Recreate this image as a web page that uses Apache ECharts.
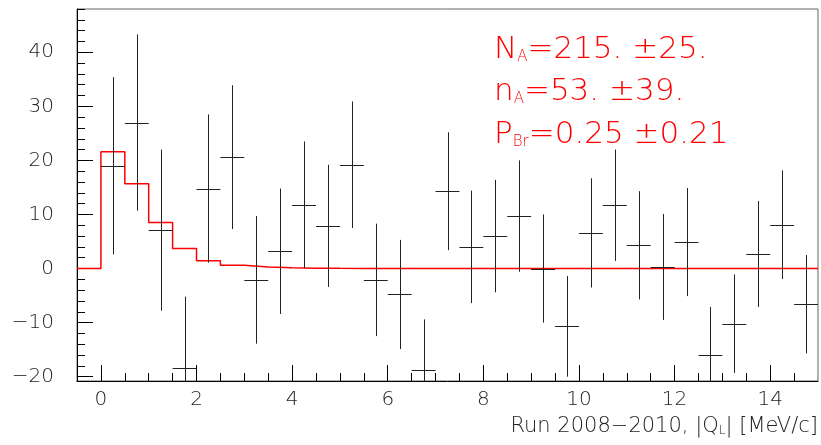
<!DOCTYPE html>
<html><head><meta charset="utf-8">
<script src="https://cdn.jsdelivr.net/npm/echarts@6/dist/echarts.min.js"></script>
<style>html,body{margin:0;padding:0;background:#fff}#c{width:821px;height:445px}</style>
</head><body><div id="c"></div>
<script>
// Data points (bin centres, values, symmetric errors)
const binCenters = [0.25,0.75,1.25,1.75,2.25,2.75,3.25,3.75,4.25,4.75,5.25,5.75,6.25,6.75,7.25,7.75,8.25,8.75,9.25,9.75,10.25,10.75,11.25,11.75,12.25,12.75,13.25,13.75,14.25,14.75];
const dataValues = [19.0,27.0,7.1,-18.4,14.8,20.6,-2.1,3.2,11.8,7.9,19.2,-2.1,-4.8,-18.7,14.3,4.0,6.0,9.7,0.0,-10.7,6.6,11.7,4.3,0.3,4.9,-15.9,-10.2,2.7,8.1,-6.6];
const dataErrors = [16.4,16.3,14.9,13.2,13.7,13.3,11.8,11.6,11.7,11.3,11.7,10.4,10.1,9.3,10.9,10.4,10.4,10.3,10.0,9.3,10.1,10.3,10.0,9.8,10.0,8.8,9.1,9.8,10.05,9.1];
const binWidth = 0.5;
// Fit histogram (lower bin edges and contents)
const fitEdges = [-0.5,0,0.5,1,1.5,2,2.5,3,3.5,4,4.5,5,5.5,6,6.5,7,7.5,8,8.5,9,9.5,10,10.5,11,11.5,12,12.5,13,13.5,14,14.5,15];
const fitValues = [0,21.6,15.7,8.5,3.7,1.45,0.6,0.28,0.15,0.07,0.03,0.015,0.008,0.004,0.002,0,0,0,0,0,0,0,0,0,0,0,0,0,0,0,0,0];
// Axis ticks
const xMajorTicks = [0,2,4,6,8,10,12,14];
const xMinorTicks = [0.5,1,1.5,2.5,3,3.5,4.5,5,5.5,6.5,7,7.5,8.5,9,9.5,10.5,11,11.5,12.5,13,13.5,14.5];
const yMajorTicks = [-20,-10,0,10,20,30,40];
const yMinorTicks = [-18,-16,-14,-12,-8,-6,-4,-2,2,4,6,8,12,14,16,18,22,24,26,28,32,34,36,38,42,44,46,48];
const xRange = [-0.5, 15];
const yRange = [-20.8, 48];

const font = 'DejaVu Sans';
const fw = 200;
const labelColor = '#222';
const fmt = v => (v < 0 ? '\u2212' + Math.abs(v) : String(v));

const chart = echarts.init(document.getElementById('c'), null, {renderer: 'canvas'});
const baseAxis = (extra) => Object.assign({
  type: 'value', splitLine: {show: false}, gridIndex: 0
}, extra);
const subRich = {s: {fontSize: 15, fontFamily: font, fontWeight: fw, fill: '#ff0000', verticalAlign: 'bottom', lineHeight: 16}};

chart.setOption({
  animation: false,
  backgroundColor: '#fff',
  grid: {left: 77, top: 9, width: 743, height: 372, show: true, borderColor: '#666', borderWidth: 1},
  xAxis: [
    baseAxis({min: xRange[0], max: xRange[1], position: 'bottom',
      axisLine: {show: true, onZero: false, lineStyle: {color: '#000', width: 1}},
      axisTick: {show: true, inside: true, length: 16, customValues: xMajorTicks, lineStyle: {color: '#000'}},
      axisLabel: {show: true, customValues: xMajorTicks, formatter: fmt, margin: 9, color: labelColor, fontFamily: font, fontWeight: fw, fontSize: 20},
      name: 'Run 2008\u22122010, |Q{s|L}| [MeV/c]', nameLocation: 'end', nameGap: 0,
      nameTextStyle: {align: 'right', verticalAlign: 'top', padding: [35, 0, 0, 0], color: labelColor, fontFamily: font, fontWeight: fw, fontSize: 21,
        rich: {s: {fontSize: 12, fontFamily: font, fontWeight: fw, color: labelColor, verticalAlign: 'bottom', lineHeight: 15}}}
    }),
    baseAxis({min: xRange[0], max: xRange[1], position: 'bottom',
      axisLine: {show: false, onZero: false},
      axisTick: {show: true, inside: true, length: 8, customValues: xMinorTicks, lineStyle: {color: '#000'}},
      axisLabel: {show: false}
    })
  ],
  yAxis: [
    baseAxis({min: yRange[0], max: yRange[1], position: 'left',
      axisLine: {show: true, onZero: false, lineStyle: {color: '#000', width: 1}},
      axisTick: {show: true, inside: true, length: 16, customValues: yMajorTicks, lineStyle: {color: '#000'}},
      axisLabel: {show: true, customValues: yMajorTicks, formatter: fmt, margin: 23, color: labelColor, fontFamily: font, fontWeight: fw, fontSize: 20}
    }),
    baseAxis({min: yRange[0], max: yRange[1], position: 'left',
      axisLine: {show: false, onZero: false},
      axisTick: {show: true, inside: true, length: 8, customValues: yMinorTicks, lineStyle: {color: '#000'}},
      axisLabel: {show: false}
    })
  ],
  graphic: [
    {type: 'text', left: 494, top: 34, z: 10, style: {text: 'N{s|A}=215. \u00b125.', fill: '#ff0000', font: fw + ' 31px ' + font, rich: subRich}},
    {type: 'text', left: 494, top: 76, z: 10, style: {text: 'n{s|A}=53. \u00b139.', fill: '#ff0000', font: fw + ' 31px ' + font, rich: subRich}},
    {type: 'text', left: 494, top: 119, z: 10, style: {text: 'P{s|Br}=0.25 \u00b10.21', fill: '#ff0000', font: fw + ' 31px ' + font, rich: subRich}}
  ],
  series: [
    {
      type: 'line', xAxisIndex: 0, yAxisIndex: 0, step: 'end', symbol: 'none', clip: true,
      lineStyle: {color: '#ff0000', width: 1.5},
      data: fitEdges.map((x, i) => [x, fitValues[i]]), z: 3
    },
    {
      type: 'custom', xAxisIndex: 0, yAxisIndex: 0, clip: true, z: 4,
      data: binCenters.map((x, i) => [x, dataValues[i], dataErrors[i]]),
      renderItem: function (params, api) {
        const x = api.value(0), y = api.value(1), e = api.value(2);
        const pL = api.coord([x - binWidth / 2, y]);
        const pR = api.coord([x + binWidth / 2, y]);
        const pT = api.coord([x, y + e]);
        const pB = api.coord([x, y - e]);
        const cx = Math.round(pT[0]) + 0.5;
        const cy = Math.round(pL[1]) + 0.5;
        const st = {stroke: '#222', lineWidth: 1};
        return {type: 'group', children: [
          {type: 'line', shape: {x1: pL[0], y1: cy, x2: pR[0], y2: cy}, style: st},
          {type: 'line', shape: {x1: cx, y1: pT[1], x2: cx, y2: pB[1]}, style: st}
        ]};
      }
    }
  ]
});
</script>
</body></html>
